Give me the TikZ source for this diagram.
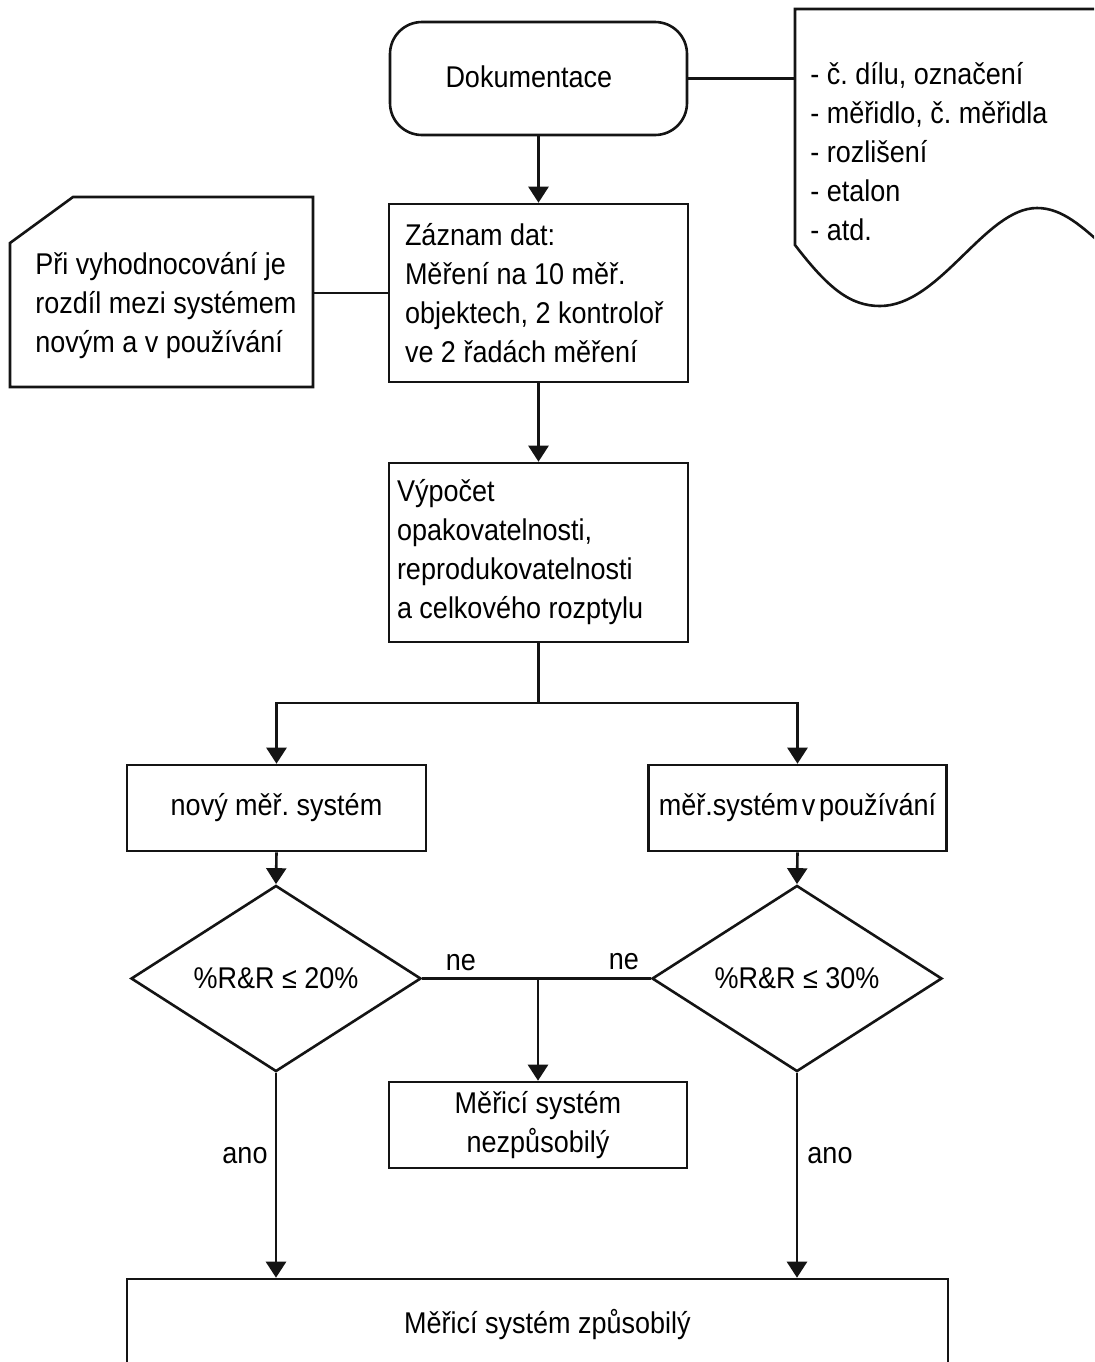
\documentclass[tikz,border=0pt]{standalone}
\usepackage{fontspec}
\setmainfont{Liberation Sans}[FakeStretch=0.9]
\usetikzlibrary{shapes.geometric,arrows.meta,calc}

\begin{document}
\begin{tikzpicture}[x=0.5pt,y=-0.5pt,
  every node/.style={font=\fontsize{15}{19.5}\selectfont\frenchspacing, inner sep=0pt},
  line/.style={line width=1.3pt, draw=black!92, line join=miter},
  box/.style={line, draw, rectangle},
  arr/.style={line, -{Triangle[width=10pt,length=8pt]}},
  decision/.style={line, draw, diamond, minimum width=145pt, minimum height=85.5pt},
  lbl/.style={anchor=center},
]
\useasboundingbox (0,0) rectangle (1094,1362);
\fill[white] (0,0) rectangle (1094,1362);
\clip (0,0) rectangle (1094,1362);

% process boxes
\node[box, rounded corners=16pt, minimum width=148.5pt, minimum height=56.5pt,
      text width=93pt, align=left] (dok) at (538.5,78.5) {\raisebox{2pt}{Dokumentace}};
\node[box, minimum width=149.5pt, minimum height=89pt, text width=133.5pt, align=left]
      (zaz) at (538.5,293) {\spaceskip=0pt Záznam dat:\\Měření na 10 měř.\\objektech, 2 kontroloř\\ve 2 řadách měření};
\node[box, minimum width=149.5pt, minimum height=89.5pt, text width=141.5pt, align=left]
      (vyp) at (538.5,552.5) {\spaceskip=0pt Výpočet\\opakovatelnosti,\\reprodukovatelnosti\\a celkového rozptylu};
\node[box, minimum width=149.5pt, minimum height=43pt] (novy) at (276.5,808) {nový měř. systém};
\node[box, minimum width=149pt, minimum height=43pt] (mer) at (797.5,808)
      {\spaceskip=0.12em měř.systém v používání};
\node[decision] (d1) at (276,978.5) {\%R\&R ≤ 20\%};
\node[decision] (d2) at (797,978.5) {\%R\&R ≤ 30\%};
\node[box, minimum width=149pt, minimum height=43pt, align=center] (nez) at (538,1125)
      {\raisebox{-1.5pt}{Měřicí systém}\\\raisebox{-1.5pt}{nezpůsobilý}};
\node[box, minimum width=410.5pt, minimum height=46pt] (ok) at (537.5,1325)
      {\hspace*{10pt}\raisebox{-1pt}{Měřicí systém způsobilý}};

% annotation: document symbol (top right)
\draw[line] (1110,9) -- (795,9) -- (795,245)
  .. controls (828,288) and (850,306) .. (880,306)
  .. controls (940,306) and (985,208) .. (1037,208)
  .. controls (1062,208) and (1082,226) .. (1110,252);
\node[anchor=west, align=left] (spec) at (810,151.5)
  {- č. dílu, označení\\- měřidlo, č. měřidla\\- rozlišení\\- etalon\\- atd.};
\coordinate (specin) at (795,78.5);

% annotation: note with cut corner (left)
\draw[line] (73,197) -- (313,197) -- (313,387) -- (10,387) -- (10,243) -- cycle;
\node[anchor=west, align=left] (note) at (35,306)
  {Při vyhodnocování je\\rozdíl mezi systémem\\novým a v používání};
\coordinate (notein) at (313,293);

% connectors
\draw[line] (dok.east) -- (specin);
\draw[line] (zaz.west) -- (notein);
\draw[arr] (dok.south) -- (zaz.north);
\draw[arr] (zaz.south) -- (vyp.north);
\coordinate (split) at (538.5,703);
\draw[line] (vyp.south) -- (split);
\draw[arr] (split) -| (novy.north);
\draw[arr] (split) -| (mer.north);
\draw[arr] (novy.south) -- (d1.north);
\draw[arr] (mer.south) -- (d2.north);
\draw[line] (d1.east) -- (d2.west);
\coordinate (j) at (nez.north |- d1.east);
\draw[arr] (j) -- (nez.north);
\draw[arr] (d1.south) -- (d1.south |- ok.north);
\draw[arr] (d2.south) -- (d2.south |- ok.north);

% branch labels
\node[lbl] (ne1) at (461,963) {ne};
\node[lbl] (ne2) at (624,962) {ne};
\node[lbl] (ano1) at (245,1156) {ano};
\node[lbl] (ano2) at (830,1156) {ano};
\end{tikzpicture}
\end{document}
